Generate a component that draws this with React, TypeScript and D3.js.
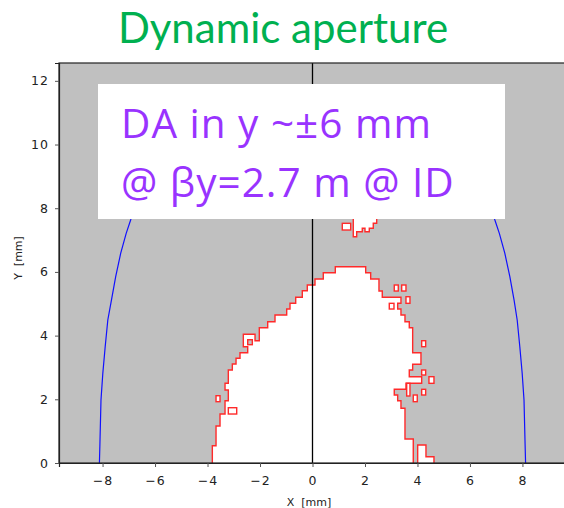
import React, { useEffect, useRef } from 'react';
import * as d3 from 'd3';

// tick values
const xTicks = [-8, -6, -4, -2, 0, 2, 4, 6, 8];
const yTicks = [0, 2, 4, 6, 8, 10, 12];

// main stable region boundary (x, y in mm); ends dip below y=0 so the base is hidden
const mainContour: [number, number][] = [
  [-3.817, -0.3], [-3.817, 0.543], [-3.676, 0.543], [-3.676, 1.162], [-3.524, 1.162],
  [-3.524, 1.538], [-3.333, 1.538], [-3.333, 1.956], [-3.208, 1.956], [-3.208, 2.292],
  [-3.333, 2.292], [-3.333, 2.502], [-3.208, 2.502], [-3.208, 2.92], [-3.055, 2.92],
  [-3.055, 3.108], [-2.914, 3.108], [-2.914, 3.287], [-2.762, 3.287], [-2.762, 3.463],
  [-2.469, 3.463], [-2.469, 3.652], [-2.636, 3.652], [-2.636, 4.041], [-2.19, 4.041],
  [-2.19, 3.84], [-2.027, 3.84], [-2.027, 4.248], [-1.707, 4.248], [-1.707, 4.436],
  [-1.429, 4.436], [-1.429, 4.647], [-0.983, 4.647], [-0.983, 4.835], [-0.857, 4.835],
  [-0.857, 5.014], [-0.64, 5.014], [-0.64, 5.203], [-0.389, 5.203], [-0.389, 5.41],
  [-0.198, 5.41], [-0.198, 5.589], [0.095, 5.589], [0.095, 5.777], [0.411, 5.777],
  [0.411, 5.975], [0.869, 5.975], [0.869, 6.163], [2.027, 6.163], [2.027, 5.975],
  [2.217, 5.975], [2.217, 5.777], [2.533, 5.777], [2.533, 5.4], [2.659, 5.4],
  [2.659, 5.203], [3.371, 5.203], [3.371, 5.014], [3.246, 5.014], [3.246, 4.835],
  [3.371, 4.835], [3.371, 4.647], [3.524, 4.647], [3.524, 4.436], [3.688, 4.436],
  [3.688, 4.248], [3.817, 4.248], [3.817, 3.463], [4.133, 3.463], [4.133, 3.099],
  [3.817, 3.099], [3.817, 2.92], [3.688, 2.92], [3.688, 2.71], [4.16, 2.71],
  [4.16, 2.502], [3.562, 2.502], [3.562, 2.314], [3.116, 2.314], [3.116, 2.135],
  [3.246, 2.135], [3.246, 1.956], [3.371, 1.956], [3.371, 1.717], [3.524, 1.717],
  [3.524, 0.754], [3.84, 0.754], [3.84, -0.3],
];

// separate stable islands (polygons)
const bottomIsland: [number, number][] = [
  [4.008, -0.3], [4.008, 0.565], [4.324, 0.565], [4.324, 0.198], [4.629, 0.198], [4.629, -0.3],
];
const topIsland: [number, number][] = [
  [1.554, 7.9], [1.554, 7.105], [1.684, 7.105], [1.684, 7.262], [1.897, 7.262],
  [1.897, 7.369], [2.0, 7.369], [2.0, 7.262], [2.164, 7.262], [2.164, 7.369],
  [2.316, 7.369], [2.316, 7.526], [2.446, 7.526], [2.446, 7.9],
];

// small stable cells [x0, x1, y0, y1]
const islandCells: [number, number, number, number][] = [
  [3.116, 3.269, 5.4, 5.589],
  [3.398, 3.562, 5.4, 5.589],
  [3.562, 3.714, 5.014, 5.221],
  [2.926, 3.105, 4.835, 5.014],
  [4.16, 4.312, 3.652, 3.84],
  [4.16, 4.312, 2.763, 2.92],
  [4.438, 4.629, 2.502, 2.71],
  [4.16, 4.312, 2.135, 2.314],
  [3.84, 3.992, 1.925, 2.135],
  [3.589, 3.714, 2.104, 2.502],
  [-3.676, -3.524, 1.925, 2.113],
  [-3.208, -2.888, 1.538, 1.736],
  [1.135, 1.455, 7.316, 7.526],
];

// unstable hole inside the stable region
const holeCells: [number, number, number, number][] = [
  [-2.469, -2.293, 3.715, 3.871],
];

// physical aperture (blue)
const apertureRight: [number, number][] = [
  [8.12, 0], [8.1, 0.62], [8.06, 1.98], [7.99, 2.82], [7.9, 3.65], [7.8, 4.49],
  [7.68, 5.12], [7.52, 5.85], [7.33, 6.58], [7.12, 7.21], [6.95, 7.63], [6.85, 7.9],
];
const apertureLeft: [number, number][] = [
  [-8.12, 0], [-8.1, 0.62], [-8.06, 1.98], [-7.99, 2.82], [-7.9, 3.65], [-7.8, 4.49],
  [-7.66, 5.12], [-7.5, 5.85], [-7.31, 6.58], [-7.1, 7.21], [-6.93, 7.63], [-6.85, 7.9],
];

const noteLines = ['DA in y ~±6 mm', '@ βy=2.7 m @ ID'];

const App: React.FC = () => {
  const svgRef = useRef<SVGSVGElement | null>(null);

  useEffect(() => {
    const svg = d3.select(svgRef.current);
    svg.selectAll('*').remove();

    const width = 564;
    const height = 508;
    const left = 59;
    const right = 566;
    const top = 63;
    const bottom = 463;

    svg.attr('width', width).attr('height', height);

    const x = d3.scaleLinear().domain([-9.66, 9.66]).range([left, right]);
    const y = d3.scaleLinear().domain([0, 12.56]).range([bottom, top]);

    svg.append('rect').attr('width', width).attr('height', height).attr('fill', '#fff');

    // title
    svg.append('text')
      .attr('x', 283)
      .attr('y', 43)
      .attr('text-anchor', 'middle')
      .attr('font-family', 'Lato, "Open Sans", sans-serif')
      .attr('font-size', 42)
      .attr('fill', '#00B050')
      .text('Dynamic aperture');

    svg.append('clipPath').attr('id', 'plot-clip')
      .append('rect')
      .attr('x', left).attr('y', top)
      .attr('width', right - left).attr('height', bottom - top);

    const plot = svg.append('g').attr('clip-path', 'url(#plot-clip)');

    plot.append('rect')
      .attr('x', left).attr('y', top)
      .attr('width', right - left).attr('height', bottom - top)
      .attr('fill', '#C0C0C0');

    const line = d3.line<[number, number]>().x((d) => x(d[0])).y((d) => y(d[1]));
    const red = '#FF2A2A';

    [mainContour, bottomIsland, topIsland].forEach((poly) => {
      plot.append('path')
        .attr('d', line(poly) + 'Z')
        .attr('fill', '#fff')
        .attr('stroke', red)
        .attr('stroke-width', 1.4);
    });

    plot.selectAll('rect.cell')
      .data(islandCells)
      .enter()
      .append('rect')
      .attr('class', 'cell')
      .attr('x', (d) => x(d[0]))
      .attr('y', (d) => y(d[3]))
      .attr('width', (d) => x(d[1]) - x(d[0]))
      .attr('height', (d) => y(d[2]) - y(d[3]))
      .attr('fill', '#fff')
      .attr('stroke', red)
      .attr('stroke-width', 1.4);

    plot.selectAll('rect.hole')
      .data(holeCells)
      .enter()
      .append('rect')
      .attr('class', 'hole')
      .attr('x', (d) => x(d[0]))
      .attr('y', (d) => y(d[3]))
      .attr('width', (d) => x(d[1]) - x(d[0]))
      .attr('height', (d) => y(d[2]) - y(d[3]))
      .attr('fill', '#C0C0C0')
      .attr('stroke', red)
      .attr('stroke-width', 1.4);

    [apertureLeft, apertureRight].forEach((curve) => {
      plot.append('path')
        .attr('d', line(curve))
        .attr('fill', 'none')
        .attr('stroke', '#1010FF')
        .attr('stroke-width', 1.2);
    });

    // x = 0 line
    plot.append('line')
      .attr('x1', x(0)).attr('x2', x(0))
      .attr('y1', top).attr('y2', bottom)
      .attr('stroke', '#000')
      .attr('stroke-width', 1.3);

    // frame
    svg.append('rect')
      .attr('x', left).attr('y', top)
      .attr('width', right - left).attr('height', bottom - top)
      .attr('fill', 'none')
      .attr('stroke', '#222')
      .attr('stroke-width', 1.2);

    // axes
    const tickFont = '"DejaVu Sans", Verdana, sans-serif';
    const xAxis = svg.append('g')
      .attr('transform', `translate(0,${bottom})`)
      .call(d3.axisBottom(x).tickValues(xTicks).tickSize(4).tickPadding(9).tickFormat((d) => d3.format('d')(d as number).replace('-', '\u2212')));
    const yAxis = svg.append('g')
      .attr('transform', `translate(${left},0)`)
      .call(d3.axisLeft(y).tickValues(yTicks).tickSize(4).tickPadding(6).tickFormat(d3.format('d')));
    [xAxis, yAxis].forEach((ax) => {
      ax.select('.domain').attr('stroke', '#222').attr('stroke-width', 1.2);
      ax.selectAll('.tick line').attr('stroke', '#555');
      ax.selectAll('.tick text')
        .attr('font-family', tickFont)
        .attr('font-size', 12.5)
        .attr('letter-spacing', 1)
        .attr('fill', '#222');
    });

    svg.append('text')
      .attr('x', 309)
      .attr('y', 506)
      .attr('text-anchor', 'middle')
      .attr('font-family', tickFont)
      .attr('font-size', 11)
      .attr('fill', '#222')
      .style('white-space', 'pre')
      .text('X  [mm]');

    svg.append('text')
      .attr('transform', 'translate(22,258) rotate(-90)')
      .attr('text-anchor', 'middle')
      .attr('font-family', tickFont)
      .attr('font-size', 11)
      .attr('fill', '#222')
      .style('white-space', 'pre')
      .text('Y  [mm]');

    // annotation box
    svg.append('rect')
      .attr('x', 98).attr('y', 84)
      .attr('width', 407).attr('height', 135)
      .attr('fill', '#fff');

    noteLines.forEach((t, i) => {
      svg.append('text')
        .attr('x', 121)
        .attr('y', 138 + i * 59)
        .attr('font-family', '"Open Sans", Lato, sans-serif')
        .attr('font-size', 40.5)
        .attr('letter-spacing', 1)
        .attr('fill', '#9933FF')
        .text(t);
    });
  }, []);

  return <svg ref={svgRef} style={{ position: 'absolute', left: 0, top: 0 }}></svg>;
};

export default App;
